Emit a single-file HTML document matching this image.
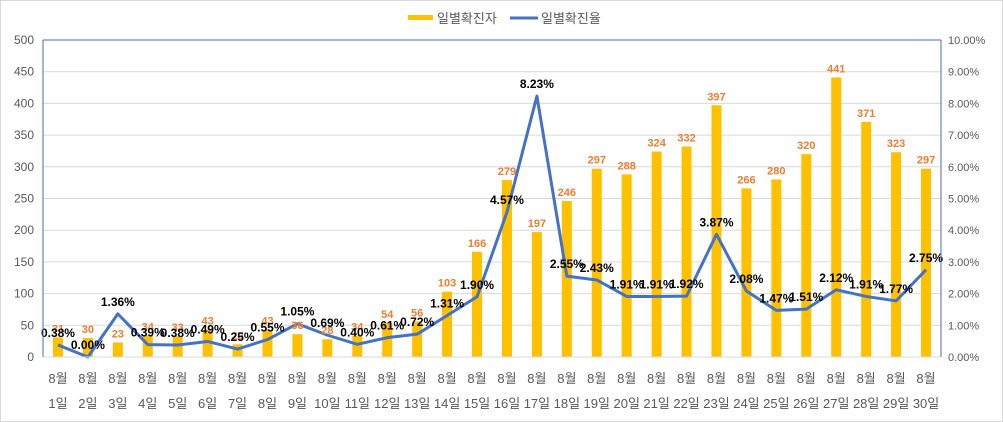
<!DOCTYPE html>
<html><head><meta charset="utf-8"><style>
body{margin:0;background:#fff}
svg{display:block;font-family:"Liberation Sans","Noto Sans CJK KR",sans-serif}
</style></head><body>
<svg id="c" width="1003" height="422">
<rect x="0.5" y="0.5" width="1002" height="421" fill="#fff" stroke="#d9d9d9"/>
<g>
<rect x="408" y="15" width="25" height="5" fill="#ffc000"/>
<text x="437" y="23" font-size="13" fill="#595959">일별확진자</text>
<line x1="510" y1="18" x2="538" y2="18" stroke="#4472c4" stroke-width="3"/>
<text x="541" y="23" font-size="13" fill="#595959">일별확진율</text>
</g>
<g id="grid"></g><g id="bars"></g><g id="line"></g><g id="labels"></g><g id="axes"></g>
</svg>
<script>
const categories=["1","2","3","4","5","6","7","8","9","10","11","12","13","14","15","16","17","18","19","20","21","22","23","24","25","26","27","28","29","30"];
const cases=[31,30,23,34,33,43,20,43,36,28,34,54,56,103,166,279,197,246,297,288,324,332,397,266,280,320,441,371,323,297];
const rates=[0.38,0.00,1.36,0.39,0.38,0.49,0.25,0.55,1.05,0.69,0.40,0.61,0.72,1.31,1.90,4.57,8.23,2.55,2.43,1.91,1.91,1.92,3.87,2.08,1.47,1.51,2.12,1.91,1.77,2.75];
const leftTicks=[0,50,100,150,200,250,300,350,400,450,500];
const rightTicks=[0,1,2,3,4,5,6,7,8,9,10];
const NS="http://www.w3.org/2000/svg";
const L=43,R=941,T=40,B=357;
const step=(R-L)/categories.length;
const x=i=>L+step*(i+0.5);
const yL=v=>B-(v/500)*(B-T);
const yR=v=>B-(v/10)*(B-T);
function mk(tag,attrs,parent,txt){const e=document.createElementNS(NS,tag);for(const k in attrs)e.setAttribute(k,attrs[k]);if(txt!==undefined)e.textContent=txt;document.getElementById(parent).appendChild(e);return e;}
leftTicks.forEach((t,i)=>{
 const g=mk('line',{x1:L,x2:R,y1:yL(t),y2:yL(t),stroke:i==leftTicks.length-1?'#4a6fa5':'#d9d9d9'},'grid');
 
 
 const tx=mk('text',{x:34,y:yL(t)+4,'font-size':12,fill:'#595959','text-anchor':'end'},'axes',t);
 
 
});
rightTicks.forEach(t=>{
 const tx=mk('text',{x:948,y:yR(t)+4,'font-size':11,fill:'#595959'},'axes',t.toFixed(2)+'%');
 
 
});
const ax1=mk('line',{x1:L,x2:L,y1:T,y2:B,stroke:'#4a6fa5'},'axes');


const ax2=mk('line',{x1:R,x2:R,y1:T,y2:B,stroke:'#4a6fa5'},'axes');


const ax3=mk('line',{x1:L,x2:R,y1:B,y2:B,stroke:'#d9d9d9'},'axes');


categories.forEach((c,i)=>{
 const a=mk('text',{x:x(i),y:383,'font-size':13,fill:'#595959','text-anchor':'middle'},'axes','8월');
 
 
 const b=mk('text',{x:x(i),y:408,'font-size':13,fill:'#595959','text-anchor':'middle'},'axes',c+'일');
 
 
 const bar=mk('rect',{x:x(i)-5,y:yL(cases[i]),width:10,height:B-yL(cases[i]),fill:'#ffc000'},'bars');
 
 
 const bl=mk('text',{x:x(i),y:yL(cases[i])-5,'font-size':11,'font-weight':'bold',fill:'#ed7d31','text-anchor':'middle'},'labels',cases[i]);
 
 
});
const pts=rates.map((r,i)=>x(i)+','+yR(r)).join(' ');
const pl=mk('polyline',{points:pts,fill:'none',stroke:'#4472c4','stroke-width':3,'stroke-linejoin':'round'},'line');


rates.forEach((r,i)=>{
 const t=mk('text',{x:x(i),y:yR(r)-8,'font-size':12,'font-weight':'bold',fill:'#000','text-anchor':'middle'},'labels',r.toFixed(2)+'%');
 
 
});
</script>
</body></html>
